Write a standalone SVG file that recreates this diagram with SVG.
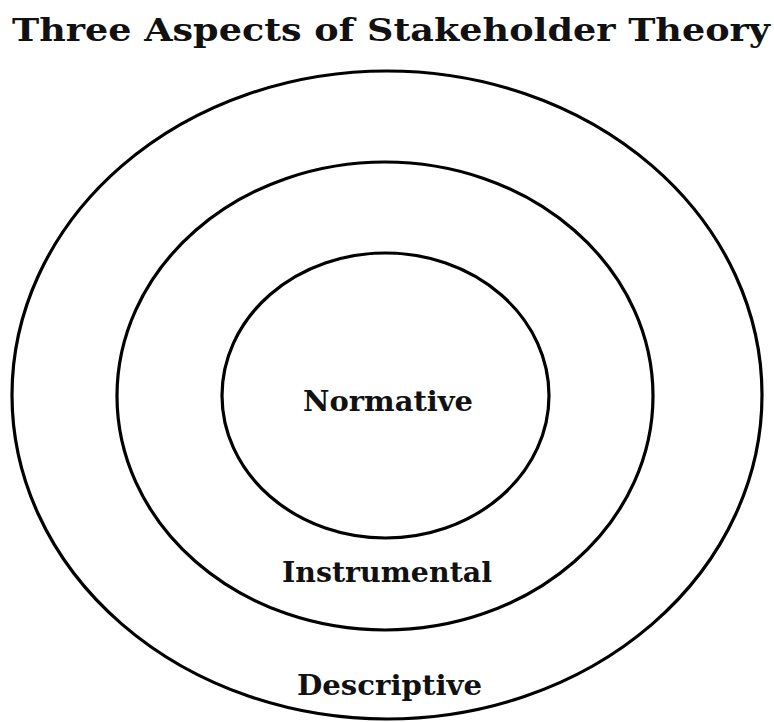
<svg xmlns="http://www.w3.org/2000/svg" width="774" height="722" viewBox="0 0 774 722">
<style>
.ring{fill:none;stroke:#000;stroke-width:3.2}
.t{font-family:"DejaVu Serif","Liberation Serif",serif;font-weight:bold;fill:#111}
.lbl{font-size:27px}
.title{font-size:32px}
</style>
<rect width="774" height="722" fill="#fff"/>
<text class="t title" x="12" y="41" textLength="758" lengthAdjust="spacingAndGlyphs">Three Aspects of Stakeholder Theory</text>
<g id="descriptive">
<ellipse class="ring" cx="387" cy="395" rx="375" ry="324"/>
<text class="t lbl" x="297" y="695" textLength="185" lengthAdjust="spacingAndGlyphs">Descriptive</text>
</g>
<g id="instrumental">
<ellipse class="ring" cx="385" cy="396" rx="268" ry="234"/>
<text class="t lbl" x="282" y="582" textLength="210" lengthAdjust="spacingAndGlyphs">Instrumental</text>
</g>
<g id="normative">
<ellipse class="ring" cx="385.5" cy="395.5" rx="163.5" ry="142.5"/>
<text class="t lbl" x="303" y="411" textLength="170" lengthAdjust="spacingAndGlyphs">Normative</text>
</g>
<g id="connectors"/>
</svg>
